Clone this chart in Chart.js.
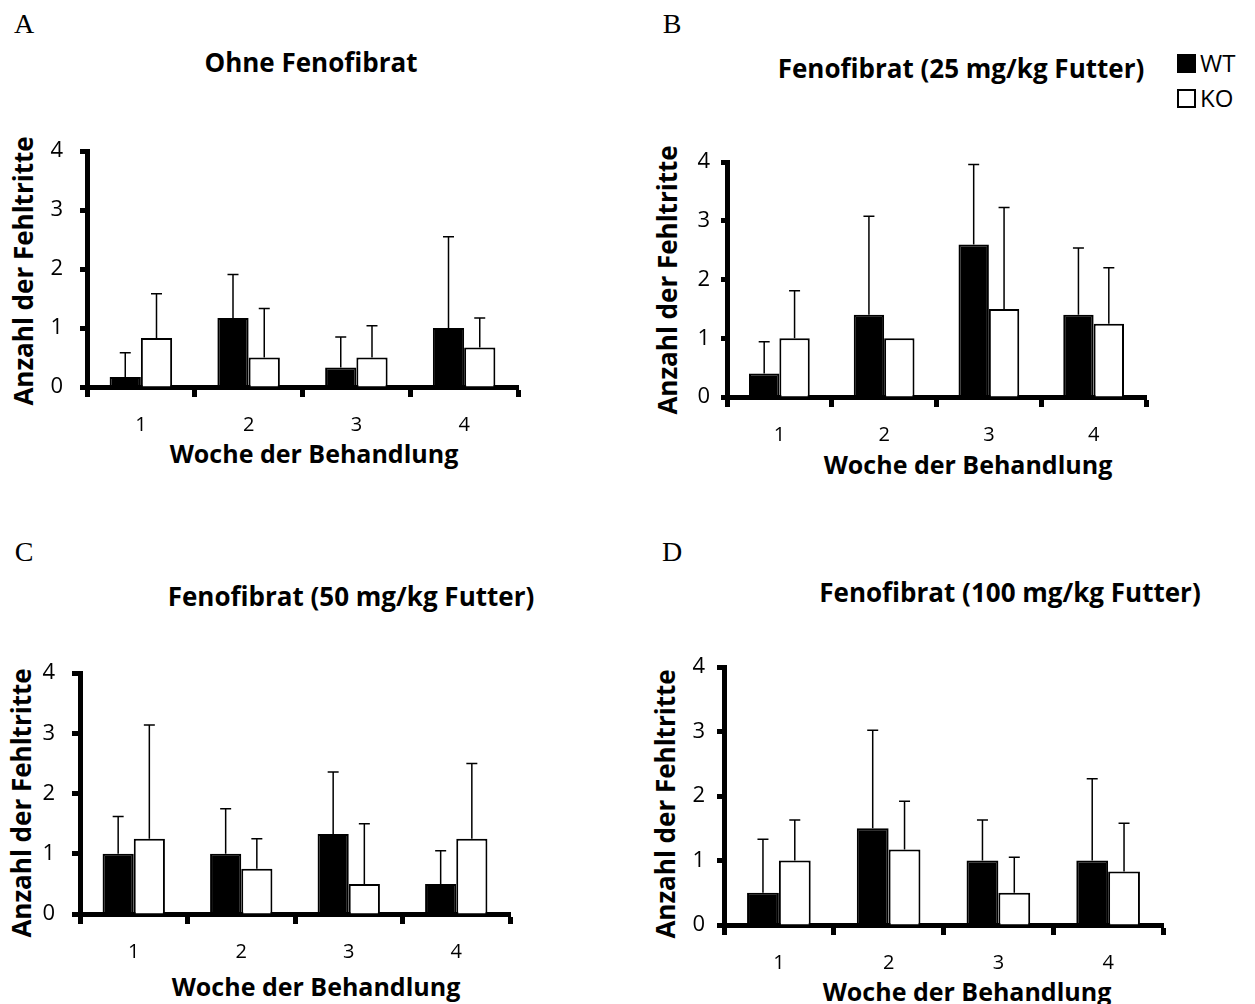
<!DOCTYPE html>
<html>
<head>
<meta charset="utf-8">
<title>Fehltritte unter Fenofibrat</title>
<script src="https://cdn.jsdelivr.net/npm/chart.js@4/dist/chart.umd.min.js"></script>
<style>
  body { margin: 0; background: #fff; }
  #seite { position: relative; width: 1255px; height: 1004px; overflow: hidden; font-family: 'Open Sans', sans-serif; color: #000; }
  canvas { position: absolute; }
  .txt { position: absolute; white-space: nowrap; line-height: 1; transform: translate(-50%, -50%); }
  .buchst { font-family: 'Liberation Serif', 'DejaVu Serif', serif; font-size: 28px; }
  .titel { font-weight: bold; font-size: 26px; }
  .achse { font-weight: bold; font-size: 25px; }
  .yachse { font-weight: bold; font-size: 26px; transform: translate(-50%, -50%) rotate(-90deg); }
  .leg { position: absolute; font-size: 24px; line-height: 1; display: flex; align-items: center; }
  .leg span.box { display: inline-block; width: 15px; height: 15px; border: 2px solid #000; margin-right: 4px; }
</style>
</head>
<body>
<div id="seite">
  <div class="txt buchst" style="left:24px;top:24px">A</div>
  <div class="txt buchst" style="left:672px;top:24px">B</div>
  <div class="txt buchst" style="left:24px;top:552px">C</div>
  <div class="txt buchst" style="left:672px;top:552px">D</div>

  <div class="txt titel" style="left:311px;top:62px">Ohne Fenofibrat</div>
  <div class="txt titel" style="left:961px;top:68px">Fenofibrat (25 mg/kg Futter)</div>
  <div class="txt titel" style="left:351px;top:596px">Fenofibrat (50 mg/kg Futter)</div>
  <div class="txt titel" style="left:1010px;top:592px">Fenofibrat (100 mg/kg Futter)</div>

  <div class="txt achse" style="left:314px;top:453px">Woche der Behandlung</div>
  <div class="txt achse" style="left:968px;top:464px">Woche der Behandlung</div>
  <div class="txt achse" style="left:316px;top:986px">Woche der Behandlung</div>
  <div class="txt achse" style="left:967px;top:991px">Woche der Behandlung</div>

  <div class="txt yachse" style="left:23px;top:271px">Anzahl der Fehltritte</div>
  <div class="txt yachse" style="left:667px;top:280px">Anzahl der Fehltritte</div>
  <div class="txt yachse" style="left:21px;top:803px">Anzahl der Fehltritte</div>
  <div class="txt yachse" style="left:665px;top:804px">Anzahl der Fehltritte</div>

  <div class="leg" style="left:1177px;top:51px"><span class="box" style="background:#000"></span>WT</div>
  <div class="leg" style="left:1177px;top:86px"><span class="box" style="background:#fff"></span>KO</div>

  <canvas id="grafikA"></canvas>
  <canvas id="grafikB"></canvas>
  <canvas id="grafikC"></canvas>
  <canvas id="grafikD"></canvas>
</div>

<script>
// Wochen und Achsenwerte
var wochen = ['1', '2', '3', '4'];
var yWerte = [0, 1, 2, 3, 4];

// Mittelwerte und Standardabweichungen je Gruppe
var wtOhne   = [0.17, 1.17, 0.33, 1.0];
var wtOhneSd = [0.41, 0.74, 0.52, 1.55];
var koOhne   = [0.83, 0.5, 0.5, 0.67];
var koOhneSd = [0.75, 0.83, 0.54, 0.5];

var wt25   = [0.4, 1.4, 2.6, 1.4];
var wt25Sd = [0.54, 1.68, 1.36, 1.14];
var ko25   = [1.0, 1.0, 1.5, 1.25];
var ko25Sd = [0.81, 0, 1.73, 0.95];

var wt50   = [1.0, 1.0, 1.33, 0.5];
var wt50Sd = [0.62, 0.75, 1.03, 0.55];
var ko50   = [1.25, 0.75, 0.5, 1.25];
var ko50Sd = [1.89, 0.5, 1.0, 1.25];

var wt100   = [0.5, 1.5, 1.0, 1.0];
var wt100Sd = [0.83, 1.52, 0.63, 1.27];
var ko100   = [1.0, 1.17, 0.5, 0.83];
var ko100Sd = [0.63, 0.75, 0.55, 0.75];

// Fehlerbalken nur nach oben, mit kurzem Querstrich
var fehlerbalken = {
    id: 'fehlerbalken',
    afterDatasetsDraw: function(chart) {
        var ctx = chart.ctx;
        var y = chart.scales.y;
        ctx.save();
        ctx.strokeStyle = '#000';
        ctx.lineWidth = 1.5;
        chart.data.datasets.forEach(function(ds, i) {
            var meta = chart.getDatasetMeta(i);
            meta.data.forEach(function(bar, j) {
                var sd = ds.sd[j];
                if (!sd) return;
                var oben = y.getPixelForValue(ds.data[j] + sd);
                ctx.beginPath();
                ctx.moveTo(bar.x, bar.y);
                ctx.lineTo(bar.x, oben);
                ctx.moveTo(bar.x - 5.5, oben);
                ctx.lineTo(bar.x + 5.5, oben);
                ctx.stroke();
            });
        });
        ctx.restore();
    }
};

function zeichne(id, rahmen, wt, wtSd, ko, koSd) {
    // rahmen: Canvas-Lage und Diagrammfläche in Seitenkoordinaten
    var canvas = document.getElementById(id);
    canvas.width = rahmen.w;
    canvas.height = rahmen.h;
    canvas.style.left = rahmen.x + 'px';
    canvas.style.top = rahmen.y + 'px';

    var yBreite = rahmen.links - rahmen.x;
    var xHoehe = rahmen.y + rahmen.h - rahmen.unten;

    return new Chart(canvas.getContext('2d'), {
        type: 'bar',
        data: {
            labels: wochen,
            datasets: [
                { label: 'WT', data: wt, sd: wtSd, backgroundColor: '#000', borderColor: '#000', borderWidth: 2 },
                { label: 'KO', data: ko, sd: koSd, backgroundColor: '#fff', borderColor: '#000', borderWidth: 2 }
            ]
        },
        options: {
            responsive: false,
            animation: false,
            events: [],
            categoryPercentage: 0.58,
            barPercentage: 1.0,
            layout: {
                padding: { left: 0, top: rahmen.oben - rahmen.y, right: rahmen.x + rahmen.w - rahmen.rechts, bottom: 0 }
            },
            plugins: { legend: { display: false }, tooltip: { enabled: false }, title: { display: false } },
            scales: {
                x: {
                    offset: true,
                    grid: { offset: true, drawOnChartArea: false, drawTicks: true, tickLength: 10, tickWidth: 5, tickColor: '#000', color: '#000' },
                    border: { display: true, color: '#000', width: 5 },
                    ticks: { color: '#000', padding: 16, font: { family: 'Open Sans', size: 20 } },
                    afterFit: function(s) { s.height = xHoehe; }
                },
                y: {
                    min: 0,
                    max: 4,
                    afterBuildTicks: function(s) { s.ticks = yWerte.map(function(v) { return { value: v }; }); },
                    grid: { drawOnChartArea: false, drawTicks: true, tickLength: rahmen.tl, tickWidth: 5, tickColor: '#000', color: '#000' },
                    border: { display: true, color: '#000', width: 5 },
                    ticks: { color: '#000', padding: rahmen.pad, font: { family: 'Open Sans', size: 22 } },
                    afterFit: function(s) { s.width = yBreite; }
                }
            }
        },
        plugins: [fehlerbalken]
    });
}

zeichne('grafikA', { x: 0,   y: 121, w: 540, h: 330, links: 87,  oben: 141, rechts: 518,  unten: 387, tl: 7, pad: 17 }, wtOhne, wtOhneSd, koOhne, koOhneSd);
zeichne('grafikB', { x: 650, y: 138, w: 520, h: 320, links: 727, oben: 158, rechts: 1146, unten: 397, tl: 6, pad: 11 }, wt25, wt25Sd, ko25, ko25Sd);
zeichne('grafikC', { x: 0,   y: 643, w: 540, h: 330, links: 80,  oben: 663, rechts: 510,  unten: 914, tl: 8, pad: 17 }, wt50, wt50Sd, ko50, ko50Sd);
zeichne('grafikD', { x: 650, y: 642, w: 540, h: 340, links: 724, oben: 662, rechts: 1163, unten: 925, tl: 7, pad: 12 }, wt100, wt100Sd, ko100, ko100Sd);
</script>
</body>
</html>
